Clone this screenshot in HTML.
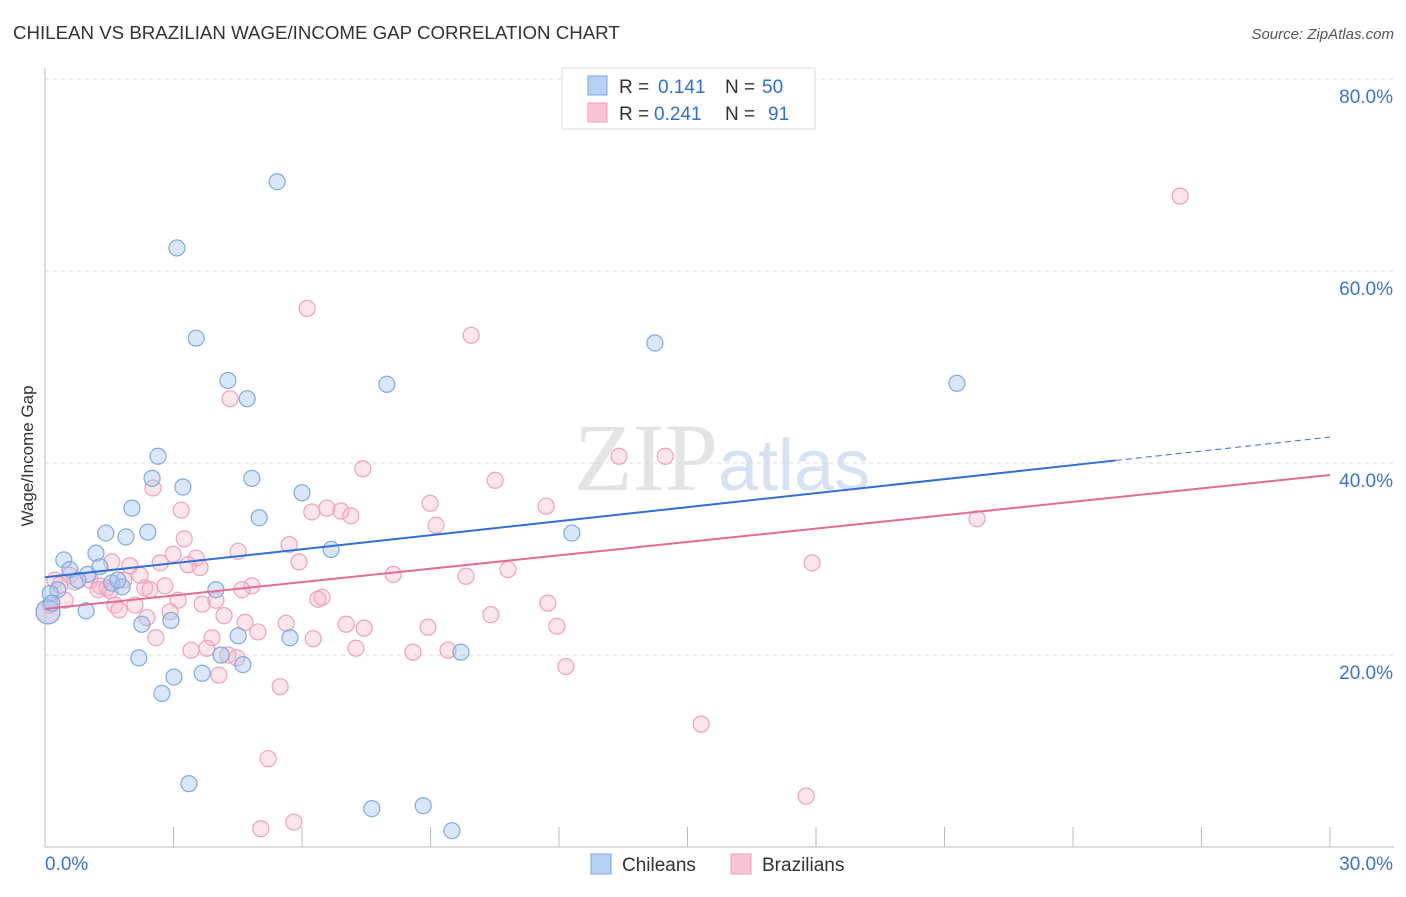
<!DOCTYPE html>
<html><head><meta charset="utf-8"><style>
body{margin:0;background:#fff;font-family:"Liberation Sans",sans-serif;}
</style></head><body>
<svg id="chart" width="1406" height="892" viewBox="0 0 1406 892" xmlns="http://www.w3.org/2000/svg" style="font-family:'Liberation Sans',sans-serif">
<text x="13" y="39" font-size="18.7" fill="#333">CHILEAN VS BRAZILIAN WAGE/INCOME GAP CORRELATION CHART</text>
<text x="1394" y="39" font-size="15" fill="#555" font-style="italic" text-anchor="end">Source: ZipAtlas.com</text>
<text x="718" y="490" font-size="96" fill="#e4e4e4" text-anchor="end" font-family="Liberation Serif,serif">ZIP</text>
<text x="718" y="490" font-size="72" fill="#d6e2f3">atlas</text>
<g id="grid"></g>
<g id="axes"></g>
<g id="marks"></g>
<text transform="translate(33,456) rotate(-90)" font-size="17" fill="#333" text-anchor="middle">Wage/Income Gap</text>
<g>
<rect x="562" y="68" width="253" height="61" fill="#fff" stroke="#ddd"/>
<rect x="588" y="76" width="19" height="19" fill="#b7d0f3" stroke="#7fa9e0"/>
<rect x="588" y="103" width="19" height="19" fill="#f9c4d4" stroke="#f0a0bb"/>
<text x="619" y="93" font-size="19" fill="#333">R =</text>
<text x="658" y="93" font-size="19" fill="#2f6fd6">0.141</text>
<text x="725" y="93" font-size="19" fill="#333">N =</text>
<text x="762" y="93" font-size="19" fill="#2f6fd6">50</text>
<text x="619" y="120" font-size="19" fill="#333">R =</text>
<text x="654" y="120" font-size="19" fill="#2f6fd6">0.241</text>
<text x="725" y="120" font-size="19" fill="#333">N =</text>
<text x="768" y="120" font-size="19" fill="#2f6fd6">91</text>
</g>
<g>
<rect x="591" y="854" width="20" height="20" fill="#b7d0f3" stroke="#7fa9e0"/>
<text x="622" y="871" font-size="19" fill="#333">Chileans</text>
<rect x="731" y="854" width="20" height="20" fill="#f9c4d4" stroke="#f0a0bb"/>
<text x="762" y="871" font-size="19" fill="#333">Brazilians</text>
</g>
</svg>
<script>
const yTicks=[20,40,60,80];
const yTickLabels=["20.0%","40.0%","60.0%","80.0%"];
const xTickLabels=["0.0%","30.0%"];
const chileX=[5.42,3.08,3.53,4.27,4.72,7.98,14.24,21.29,2.64,2.50,3.22,4.83,2.03,5.00,6.00,1.42,1.89,2.40,0.44,1.19,6.68,12.30,0.58,1.00,1.28,0.77,1.56,1.80,1.70,0.30,0.12,0.96,2.26,2.94,3.99,4.51,5.72,2.19,4.11,4.62,9.71,3.01,3.67,2.73,3.36,7.63,8.83,9.50,0.07,0.16];
const chileY=[69.3,62.4,53.0,48.6,46.7,48.2,52.5,48.3,40.7,38.4,37.5,38.4,35.3,34.3,36.9,32.7,32.3,32.8,29.9,30.6,31.0,32.7,28.9,28.4,29.2,27.8,27.5,27.1,27.8,26.8,26.4,24.6,23.2,23.6,26.8,22.0,21.8,19.7,20.0,19.0,20.3,17.7,18.1,16.0,6.6,4.0,4.3,1.7,24.5,25.4];
const brazX=[26.50,6.12,9.95,4.32,7.42,2.52,3.18,10.51,13.40,14.48,8.99,11.70,21.76,6.23,6.58,6.91,7.14,9.13,5.70,4.51,3.25,2.99,2.69,3.53,1.56,1.98,3.62,5.93,8.13,9.83,10.81,17.91,0.58,0.23,1.05,1.84,2.33,2.80,1.28,1.52,2.45,4.83,3.11,3.67,3.99,6.47,6.37,2.10,1.63,1.73,2.38,2.92,4.18,4.67,4.97,10.41,11.74,5.63,7.03,7.45,8.94,11.95,2.59,3.90,6.26,3.41,3.78,4.27,4.48,7.26,8.59,9.41,4.06,5.49,12.16,15.32,5.21,17.77,5.04,5.81,0.35,0.70,1.24,0.47,0.12,2.22,3.34,1.45,4.60,0.07];
const brazY=[67.8,56.1,53.3,46.7,39.4,37.4,35.1,38.2,40.7,40.7,35.8,35.5,34.2,34.9,35.3,35.0,34.5,33.5,31.5,30.8,32.1,30.5,29.6,30.1,29.7,29.3,29.1,29.7,28.4,28.2,28.9,29.6,28.3,27.8,27.8,27.8,27.0,27.2,27.2,26.7,26.8,27.2,25.7,25.3,25.7,26.0,25.8,25.2,25.2,24.7,23.9,24.5,24.1,23.4,22.4,24.2,25.4,23.3,23.2,22.8,22.9,23.0,21.8,21.8,21.7,20.5,20.7,20.0,19.7,20.7,20.3,20.5,17.9,16.7,18.8,12.8,9.2,5.3,1.9,2.6,27.3,27.6,26.8,25.7,25.2,28.3,29.4,27.0,26.8,24.5];
const chileTrend=[28.1,42.7];
const brazTrend=[24.8,38.75];
const xs=v=>45+v*(1285/30);
const ys=v=>847-v*9.6;
const NS="http://www.w3.org/2000/svg";
function mk(tag,attrs,parent){const e=document.createElementNS(NS,tag);for(const k in attrs)e.setAttribute(k,attrs[k]);parent.appendChild(e);return e;}
const grid=document.getElementById('grid'),axes=document.getElementById('axes'),marks=document.getElementById('marks');
yTicks.forEach((t,i)=>{
  const l=mk('line',{x1:45,x2:1394,y1:ys(t),y2:ys(t),stroke:'#ddd','stroke-dasharray':'4,4'},grid);
  
  
  const tx=mk('text',{x:1393,y:ys(t)+24,'font-size':19,fill:'#3a73d0','text-anchor':'end'},axes);
  tx.textContent=yTickLabels[i];
  
  
});
const ax=mk('line',{x1:45,x2:1394,y1:847,y2:847,stroke:'#bbb'},axes);


const ay=mk('line',{x1:45,x2:45,y1:68,y2:847,stroke:'#bbb'},axes);


for(let i=0;i<=10;i++){
  const t=mk('line',{x1:xs(i*3),x2:xs(i*3),y1:827,y2:847,stroke:'#bbb'},axes);
  
  
}
const xl0=mk('text',{x:45,y:870,'font-size':19,fill:'#3a73d0'},axes);xl0.textContent=xTickLabels[0];


const xl1=mk('text',{x:1393,y:870,'font-size':19,fill:'#3a73d0','text-anchor':'end'},axes);xl1.textContent=xTickLabels[1];


brazX.forEach((x,i)=>{
  const r=(i===brazX.length-1)?12:8;
  const c=mk('circle',{cx:xs(x),cy:ys(brazY[i]),r:r,fill:'rgba(248,180,200,0.35)',stroke:'#f0a0bb','stroke-width':1.2},marks);
  
  
});
chileX.forEach((x,i)=>{
  const r=(i===chileX.length-2)?12:8;
  const c=mk('circle',{cx:xs(x),cy:ys(chileY[i]),r:r,fill:'rgba(160,196,240,0.4)',stroke:'#7fa9e0','stroke-width':1.2},marks);
  
  
});
const cAt=x=>chileTrend[0]+(chileTrend[1]-chileTrend[0])*x/30;
const l1=mk('line',{x1:xs(0),y1:ys(cAt(0)),x2:xs(25),y2:ys(cAt(25)),stroke:'#2f6fd6','stroke-width':2},marks);


const l2=mk('line',{x1:xs(25),y1:ys(cAt(25)),x2:xs(30),y2:ys(cAt(30)),stroke:'#2f6fd6','stroke-width':1,'stroke-dasharray':'6,4'},marks);


const l3=mk('line',{x1:xs(0),y1:ys(brazTrend[0]),x2:xs(30),y2:ys(brazTrend[1]),stroke:'#e36b98','stroke-width':2},marks);


</script>
</body></html>
